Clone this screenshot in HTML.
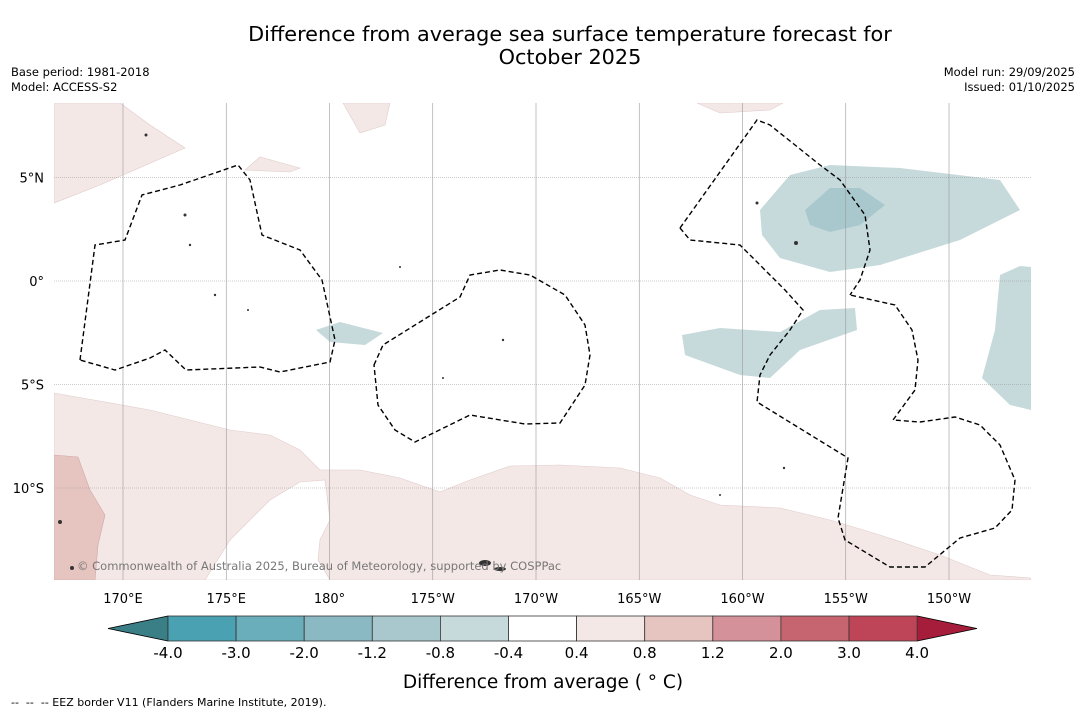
<!DOCTYPE html>
<html><head><meta charset="utf-8"><style>
body{margin:0;background:#fff;width:1085px;height:713px;overflow:hidden;font-family:"DejaVu Sans","Liberation Sans",sans-serif}
svg{position:absolute;left:0;top:0}
</style></head><body>
<svg width="1085" height="713">
<text x="570" y="41" font-size="20.8" text-anchor="middle">Difference from average sea surface temperature forecast for</text>
<text x="570" y="64" font-size="20.8" text-anchor="middle">October 2025</text>
<text x="11" y="76" font-size="11.5">Base period: 1981-2018</text>
<text x="11" y="91" font-size="11.5">Model: ACCESS-S2</text>
<text x="1075" y="76" font-size="11.5" text-anchor="end">Model run: 29/09/2025</text>
<text x="1075" y="91" font-size="11.5" text-anchor="end">Issued: 01/10/2025</text>
<g id="map">
<clipPath id="clip"><rect x="54" y="103" width="977" height="477"/></clipPath>
<g clip-path="url(#clip)">
<path fill="#f4e8e6" stroke="#e0cccc" stroke-width="0.6" fill-rule="evenodd" d="M54,393 L150,410 L230,430 L270,435 L300,450 L320,470 L360,470 L400,478 L440,492 L470,480 L510,466 L560,465 L620,468 L660,478 L690,495 L720,505 L780,508 L830,520 L880,535 L940,555 L990,575 L1031,578 L1031,580 L54,580 Z M205,580 L230,540 L270,500 L300,482 L325,480 L330,520 L320,540 L318,560 L330,580 Z"/>
<path fill="#e6c5c1" stroke="#d0a8a8" stroke-width="0.6" d="M54,455 L78,457 L90,490 L105,515 L98,545 L95,580 L54,580 Z"/>
<path fill="#f4e8e6" stroke="#e0cccc" stroke-width="0.6" d="M54,103 L120,103 L150,125 L185,148 L100,185 L54,203 Z"/>
<path fill="#f4e8e6" stroke="#e0cccc" stroke-width="0.6" d="M245,170 L260,157 L300,168 L290,172 Z"/>
<path fill="#f4e8e6" stroke="#e0cccc" stroke-width="0.6" d="M343,103 L390,103 L385,125 L360,133 Z"/>
<path fill="#f4e8e6" stroke="#e0cccc" stroke-width="0.6" d="M697,103 L783,103 L770,110 L720,113 Z"/>
<path fill="#c6d9db" d="M760,210 L790,175 L830,165 L900,168 L1000,180 L1020,210 L960,240 L880,265 L830,272 L780,258 L762,235 Z"/>
<path fill="#a9c8cd" d="M805,210 L830,188 L860,188 L885,205 L860,225 L830,232 L810,225 Z"/>
<path fill="#c6d9db" d="M682,335 L720,328 L780,332 L820,310 L855,308 L857,330 L800,350 L770,378 L740,375 L685,355 Z"/>
<path fill="#c6d9db" d="M1000,275 L1020,266 L1031,267 L1031,410 L1010,405 L982,378 L995,330 Z"/>
<path fill="#c6d9db" d="M316,330 L340,322 L383,333 L365,345 L330,342 Z"/>
</g>
<g id="grid" stroke="#999" stroke-width="0.6"></g>
<g fill="none" stroke="#000" stroke-width="1.4" stroke-dasharray="5,3">
<path d="M80,360 L95,245 L125,240 L142,195 L180,185 L238,165 L250,180 L262,235 L300,250 L322,280 L335,340 L330,362 L280,372 L260,367 L186,370 L165,350 L150,358 L115,370 Z"/>
<path d="M374,365 L383,345 L460,297 L470,275 L500,270 L530,275 L565,295 L585,325 L590,355 L585,385 L560,423 L525,424 L470,415 L415,442 L395,430 L378,405 Z"/>
<path d="M680,228 L700,200 L757,120 L770,125 L820,165 L840,180 L865,215 L870,250 L860,280 L850,295"/>
<path d="M680,228 L690,240 L740,245 L760,265 L785,290 L803,310 L790,330 L770,355 L760,375 L757,402 L848,458 L838,518 L845,540 L890,567 L925,567 L960,538 L995,528 L1012,510 L1015,480 L1000,445 L980,425 L955,417 L920,422 L893,420 L915,390 L918,360 L912,330 L895,305 L850,295"/>
</g>
<g fill="#333">
<circle cx="146" cy="135" r="1.5"/><circle cx="185" cy="215" r="1.5"/><circle cx="190" cy="245" r="1.2"/><circle cx="215" cy="295" r="1.2"/><circle cx="248" cy="310" r="1"/><circle cx="400" cy="267" r="1"/><circle cx="503" cy="340" r="1.2"/><circle cx="443" cy="378" r="1"/><circle cx="757" cy="203" r="1.5"/><circle cx="796" cy="243" r="2"/><circle cx="784" cy="468" r="1.2"/><circle cx="720" cy="495" r="1"/><ellipse cx="485" cy="563" rx="6" ry="3"/><ellipse cx="500" cy="569" rx="6" ry="2"/><circle cx="60" cy="522" r="2"/><circle cx="72" cy="568" r="2"/>
</g>
<text x="77" y="570" font-size="11.5" fill="#777">© Commonwealth of Australia 2025, Bureau of Meteorology, supported by COSPPac</text>
<g id="axislabels" font-size="13"></g>
</g>
<g id="cbar"></g>
<text x="543" y="688" font-size="18.5" text-anchor="middle">Difference from average ( ° C)</text>
<text x="11" y="706" font-size="11" xml:space="preserve">--  --  -- EEZ border V11 (Flanders Marine Institute, 2019).</text>
</svg>
<script>
const lonTicks=[170,175,180,-175,-170,-165,-160,-155,-150];
const lonLabels=["170°E","175°E","180°","175°W","170°W","165°W","160°W","155°W","150°W"];
const latTicks=[5,0,-5,-10];
const latLabels=["5°N","0°","5°S","10°S"];
const cbBounds=[-4.0,-3.0,-2.0,-1.2,-0.8,-0.4,0.4,0.8,1.2,2.0,3.0,4.0];
const cbLabels=["-4.0","-3.0","-2.0","-1.2","-0.8","-0.4","0.4","0.8","1.2","2.0","3.0","4.0"];
const cbColors=["#4aa1b1","#6aaebb","#8ab9c3","#a9c8cd","#c6d9db","#ffffff","#f4e8e6","#e6c5c1","#d4919a","#c66470","#bd4557"];
const NS="http://www.w3.org/2000/svg";
function xLon(l){const e=l<0?l+360:l;return 123+(e-170)*20.65;}
function yLat(l){return 281-l*20.7;}
function mk(t,a,p){const e=document.createElementNS(NS,t);for(const k in a)e.setAttribute(k,a[k]);p.appendChild(e);return e;}
const grid=document.getElementById('grid'),al=document.getElementById('axislabels');
lonTicks.forEach((l,i)=>{const x=xLon(l);
 const ln=mk('line',{x1:x,x2:x,y1:103,y2:580},grid);
 
 
 const t=mk('text',{x:x,y:603,'text-anchor':'middle'},al);t.textContent=lonLabels[i];
 
 });
latTicks.forEach((l,i)=>{const y=yLat(l);
 const ln=mk('line',{x1:54,x2:1031,y1:y,y2:y,'stroke-dasharray':'1,1'},grid);
 
 
 const t=mk('text',{x:44,y:y+5,'text-anchor':'end'},al);t.textContent=latLabels[i];
 
 });
const cb=document.getElementById('cbar');
const x0=168,w=68.1,y0=616,h=25;
function cx(i){return x0+i*w;}
const lt=mk('polygon',{points:`${cx(0)},${y0} ${cx(0)},${y0+h} 108,${y0+h/2}`,fill:'#3a7f86',stroke:'#000','stroke-width':0.8},cb);


const last=cbBounds.length-1;
const rt=mk('polygon',{points:`${cx(last)},${y0} ${cx(last)},${y0+h} 977,${y0+h/2}`,fill:'#a51d3b',stroke:'#000','stroke-width':0.8},cb);


cbColors.forEach((c,i)=>{const r=mk('rect',{x:cx(i),y:y0,width:w,height:h,fill:c,stroke:'#333','stroke-width':0.8},cb);
 
 });
cbLabels.forEach((s,i)=>{const t=mk('text',{x:cx(i),y:658,'font-size':15,'text-anchor':'middle'},cb);t.textContent=s;
 
 });
</script>
</body></html>
